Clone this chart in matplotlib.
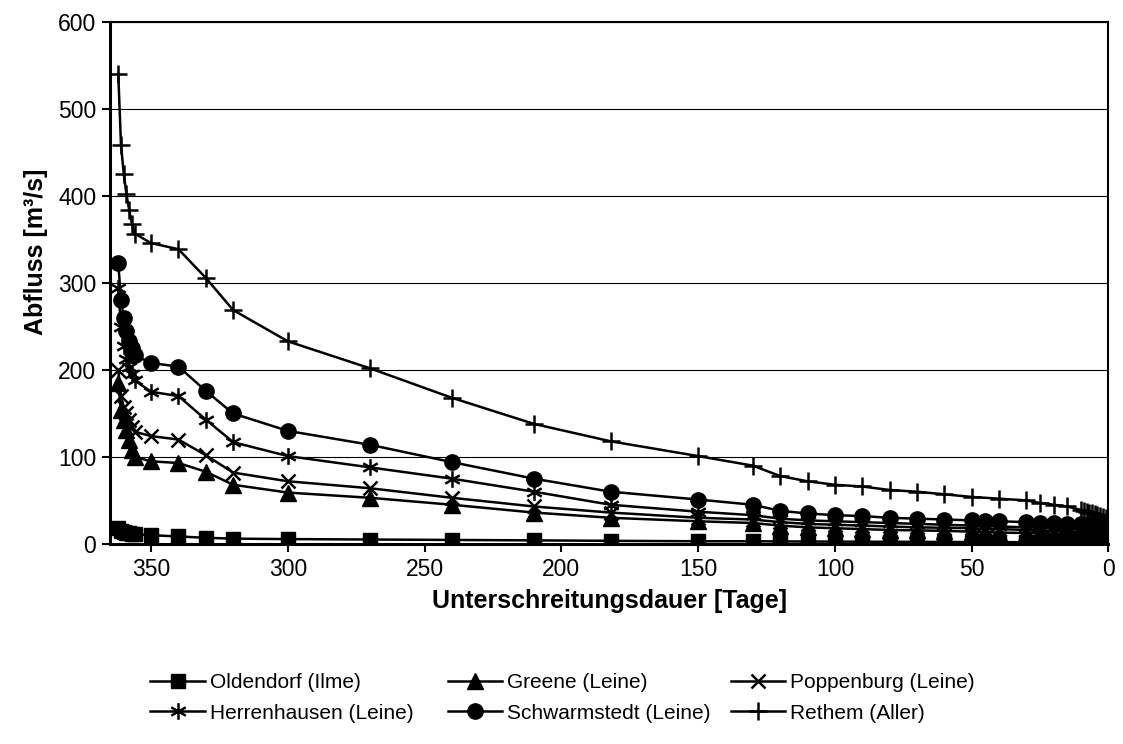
import matplotlib
matplotlib.use("Agg")
import numpy as np
from matplotlib import pyplot as plt
from matplotlib.path import Path

plt.rcParams['font.family'] = ['Liberation Sans', 'DejaVu Sans']

# x values (days)
days = [362, 361, 360, 359, 358, 357, 356, 350, 340, 330, 320, 300, 270, 240, 210,
        182, 150, 130, 120, 110, 100, 90, 80, 70, 60, 50, 45, 40, 30, 25, 20, 15,
        10, 9, 8, 7, 6, 5, 4, 3, 2, 1, 0]
days_rethem = [362, 361, 360, 359, 358, 357, 356, 350, 340, 330, 320, 300, 270, 240, 210,
               182, 150, 130, 120, 110, 100, 90, 80, 70, 60, 50, 40, 30, 25, 20, 15,
               10, 9, 8, 7, 6, 5, 4, 3, 2, 1, 0]

oldendorf = [18, 15, 14, 13, 12, 11.5, 11, 10, 8.5, 7, 6, 5.5, 5, 4.5, 4,
             3.5, 3, 3, 2.8, 2.7, 2.6, 2.5, 2.4, 2.3, 2.2, 2.1, 2, 2, 1.9, 1.9, 1.8, 1.8,
             1.7, 1.7, 1.7, 1.6, 1.6, 1.6, 1.5, 1.5, 1.5, 1.4, 1.3]
greene = [185, 154, 143, 131, 120, 108, 100, 95, 93, 83, 68, 59, 53, 45, 36,
          30, 26, 24, 21, 19, 18, 17, 16, 15.5, 15, 14, 13.5, 13, 12.5, 12, 11.5, 11,
          10.5, 10.5, 10, 10, 9.5, 9.5, 9, 9, 8.5, 8.5, 8]
poppenburg = [200, 170, 158, 150, 143, 135, 129, 124, 120, 102, 82, 72, 64, 53, 43,
              36, 30, 28, 25, 23, 22, 21, 20, 19, 18.5, 18, 17.5, 17, 16, 15.5, 15, 14.5,
              14, 14, 13.5, 13.5, 13, 13, 12.5, 12.5, 12, 12, 11]
herrenhausen = [294, 250, 228, 213, 203, 195, 188, 175, 170, 143, 117, 101, 88, 75, 60,
                45, 37, 33, 29, 27, 26, 25, 24, 23, 22, 21, 20.5, 20, 19, 18.5, 18, 17.5,
                17, 17, 16.5, 16.5, 16, 16, 15.5, 15.5, 15, 15, 14]
schwarmstedt = [323, 281, 260, 245, 233, 225, 217, 208, 204, 176, 150, 130, 114, 94, 75,
                60, 51, 45, 38, 35, 33, 32, 30, 29, 28, 27, 26.5, 26, 25, 24.5, 24, 23,
                22.5, 22, 22, 21.5, 21.5, 21, 21, 20.5, 20, 20, 19]
rethem = [541, 459, 426, 402, 384, 368, 357, 346, 339, 306, 269, 233, 202, 168, 138,
          118, 101, 90, 78, 72, 68, 66, 62, 60, 57, 54, 52, 50, 47, 45, 43,
          39, 38, 37, 36, 35, 34, 33, 32, 31, 30, 28]

labels = ["Oldendorf (Ilme)", "Greene (Leine)", "Poppenburg (Leine)",
          "Herrenhausen (Leine)", "Schwarmstedt (Leine)", "Rethem (Aller)"]

# asterisk marker like excel: vertical line plus an x
asterisk = Path([(0, -1), (0, 1), (-0.87, -0.5), (0.87, 0.5), (-0.87, 0.5), (0.87, -0.5)],
                [Path.MOVETO, Path.LINETO, Path.MOVETO, Path.LINETO, Path.MOVETO, Path.LINETO])

fig = plt.figure(figsize=(11.23, 7.44), dpi=100)
ax = fig.add_axes([0.098, 0.269, 0.889, 0.701])

lw = 1.8
h1, = ax.plot(days, oldendorf, color='black', lw=lw, marker='s', ms=10)
h2, = ax.plot(days, greene, color='black', lw=lw, marker='^', ms=11)
h3, = ax.plot(days, poppenburg, color='black', lw=lw, marker='x', ms=10, mew=1.8)
h4, = ax.plot(days, herrenhausen, color='black', lw=lw, marker=asterisk, ms=12, mew=1.8)
h5, = ax.plot(days, schwarmstedt, color='black', lw=lw, marker='o', ms=11)
h6, = ax.plot(days_rethem, rethem, color='black', lw=lw, marker='+', ms=13, mew=1.8)

ax.set_xlim(365, 0)
ax.set_ylim(0, 600)
ax.set_xticks(np.arange(350, -1, -50))
ax.set_yticks(np.arange(0, 601, 100))
ax.yaxis.grid(True, color='black', lw=0.8)
ax.set_axisbelow(True)
ax.tick_params(direction='out', length=6, width=1.5, labelsize=16.5, pad=4)
for s in ax.spines.values():
    s.set_linewidth(1.5)
ax.spines['left'].set_linewidth(2.2)
ax.spines['bottom'].set_linewidth(2.2)

ax.set_xlabel("Unterschreitungsdauer [Tage]", fontsize=18, fontweight='bold', labelpad=6)
ax.set_ylabel("Abfluss [m³/s]", fontsize=18, fontweight='bold')
ax.yaxis.set_label_coords(-0.062, 0.56)

# three legend columns placed by hand, two rows each
cols = [([h1, h4], [labels[0], labels[3]], 0.134),
        ([h2, h5], [labels[1], labels[4]], 0.399),
        ([h3, h6], [labels[2], labels[5]], 0.651)]
for hs, ls, xpos in cols:
    fig.legend(hs, ls, loc='center left', bbox_to_anchor=(xpos, 0.062), frameon=False,
               fontsize=15, handlelength=2.6, handletextpad=0.25, labelspacing=0.55,
               borderpad=0, borderaxespad=0)

fig.savefig("out.png", dpi=100)
